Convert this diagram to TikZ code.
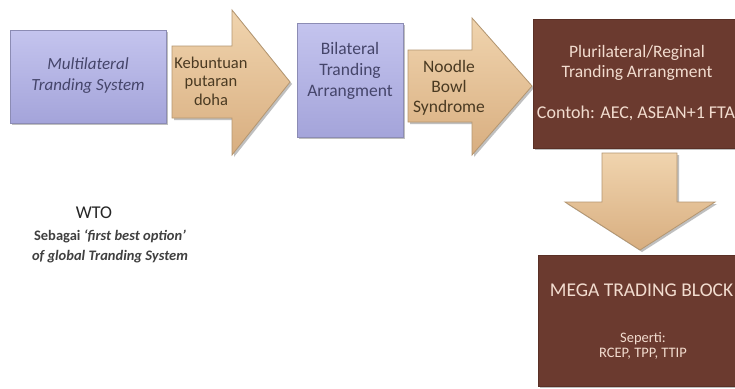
\documentclass[tikz,border=0pt]{standalone}
\usepackage{fontspec}
\setmainfont{Carlito}
\definecolor{lavtop}{HTML}{C4C4EE}
\definecolor{lavbot}{HTML}{A4A4DA}
\definecolor{lavedge}{HTML}{8C8CB4}
\definecolor{peachtop}{HTML}{F0D4AE}
\definecolor{peachbot}{HTML}{D8AE80}
\definecolor{peachedge}{HTML}{B49670}
\definecolor{brownbox}{HTML}{6B3A2F}
\definecolor{brownedge}{HTML}{5A3026}
\definecolor{lighttext}{HTML}{F2DCCF}
\definecolor{bluetext}{HTML}{45456A}
\definecolor{peachtext}{HTML}{4A3A22}
\tikzset{
  lavbox/.style={draw=lavedge, line width=1pt, top color=lavtop, bottom color=lavbot},
  peacharrow/.style={draw=peachedge, line width=0.8pt, top color=peachtop, bottom color=peachbot},
  brownrect/.style={draw=brownedge, line width=1pt, fill=brownbox},
  shadowfill/.style={fill=black!25},
  lbl/.style={align=center, inner sep=0pt},
}
\begin{document}
\begin{tikzpicture}[x=1pt,y=-1pt]
\useasboundingbox (0,0) rectangle (735,388);
\fill[white] (0,0) rectangle (735,388);

% Box 1
\fill[shadowfill] (12,32) rectangle (168,125);
\path[lavbox] (10,30) rectangle (166,123);
\node[lbl, text=bluetext, font=\fontsize{17}{21}\selectfont\itshape] (multi) at (88,76) {Multilateral\\Tranding System};

% Arrow 1
\fill[shadowfill] (174,48) -- (234,48) -- (234,12) -- (292,84) -- (234,157) -- (234,120) -- (174,120) -- cycle;
\path[peacharrow] (172,46) -- (232,46) -- (232,10) -- (290,82) -- (232,155) -- (232,118) -- (172,118) -- cycle;
\node[lbl, text=peachtext, font=\fontsize{16.5}{18.5}\selectfont] (keb) at (211,81) {Kebuntuan\\putaran\\doha};

% Box 2
\fill[shadowfill] (299,25) rectangle (405,139);
\path[lavbox] (297,23) rectangle (403,137);
\node[lbl, text=bluetext, font=\fontsize{17.5}{21}\selectfont] (bil) at (350,71) {Bilateral\\Tranding\\Arrangment};

% Arrow 2
\fill[shadowfill] (410,52) -- (474,52) -- (474,20) -- (534,88) -- (474,157) -- (474,124) -- (410,124) -- cycle;
\path[peacharrow] (408,50) -- (472,50) -- (472,18) -- (532,86) -- (472,155) -- (472,122) -- (408,122) -- cycle;
\node[lbl, text=peachtext, font=\fontsize{17.5}{20}\selectfont] (noodle) at (449,88) {Noodle\\Bowl\\Syndrome};

% Box 3
\fill[shadowfill] (535,21) rectangle (747,150);
\path[brownrect] (533,19) rectangle (747,148);
\node[lbl, text=lighttext, font=\fontsize{17.5}{20.5}\selectfont] (pluri) at (637,63) {Plurilateral/Reginal\\Tranding Arrangment};
\node[lbl, text=lighttext, font=\fontsize{18}{19}\selectfont] (contoh) at (636,113) {Contoh: AEC, ASEAN+1 FTA};

% Down arrow
\fill[shadowfill] (604,155) -- (679,155) -- (679,204) -- (717,204) -- (642,252) -- (567,204) -- (604,204) -- cycle;
\path[peacharrow] (602,153) -- (677,153) -- (677,202) -- (715,202) -- (640,250) -- (565,202) -- (602,202) -- cycle;

% Box 4
\fill[shadowfill] (540,257) rectangle (747,388);
\path[brownrect] (538,255) rectangle (747,386);
\node[lbl, text=lighttext, font=\fontsize{19.5}{22}\selectfont] (mega) at (641.5,290) {MEGA TRADING BLOCK};
\node[lbl, text=lighttext, font=\fontsize{14.5}{15.5}\selectfont] (seperti) at (643,346) {Seperti:\\RCEP, TPP, TTIP};

% WTO text
\node[lbl, text=black!85, font=\fontsize{18}{20}\selectfont] (wto) at (94,213) {WTO};
\node[lbl, text=black!75, font=\fontsize{14.5}{20}\selectfont\bfseries] (sebagai) at (110,246) {Sebagai \textit{`first best option'}\\\textit{of global Tranding System}};
\end{tikzpicture}
\end{document}
